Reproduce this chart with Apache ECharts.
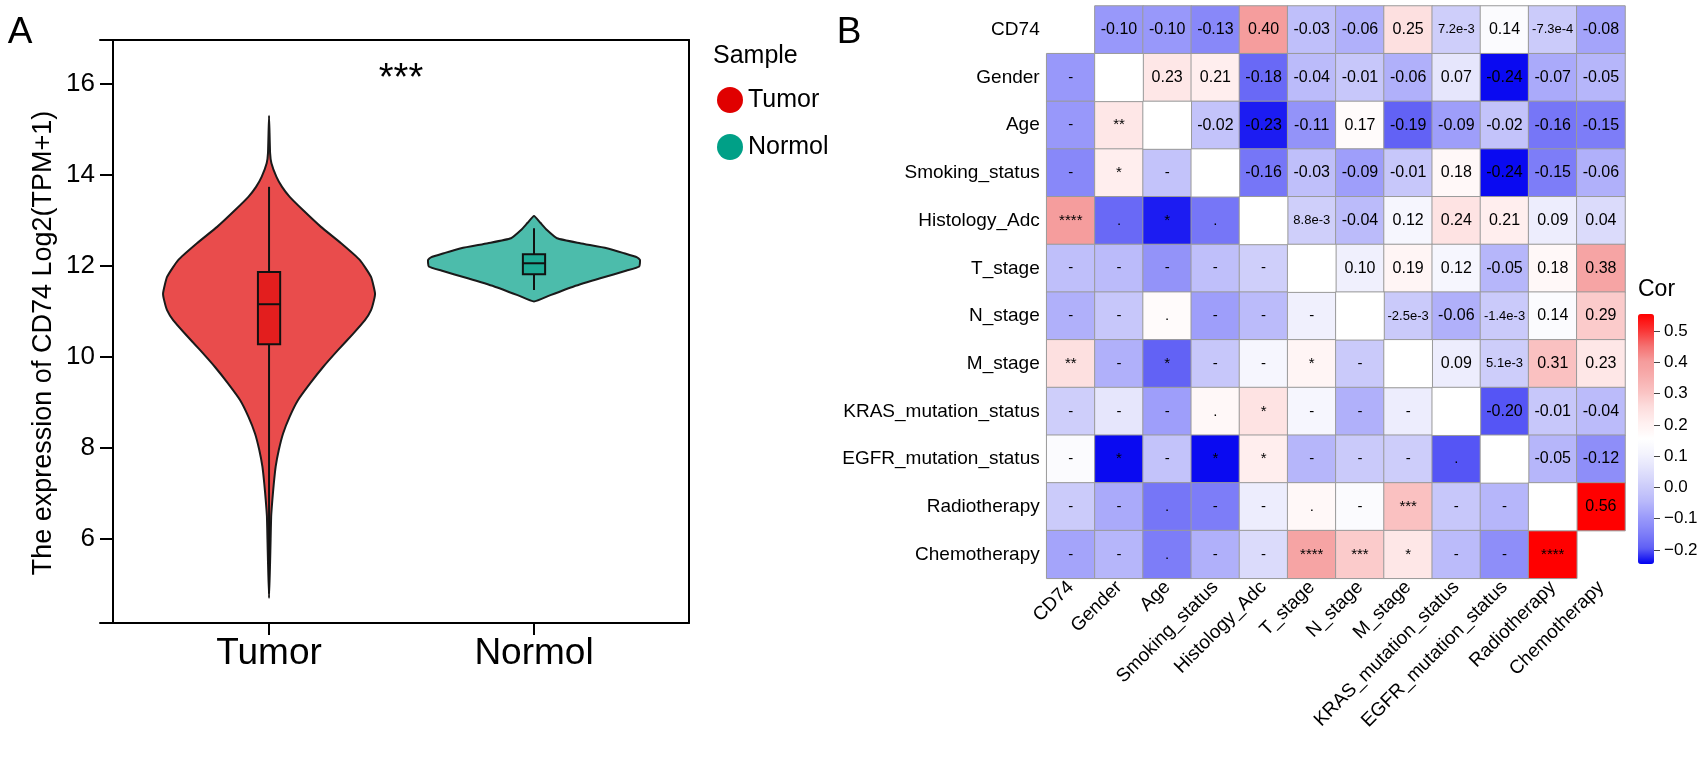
<!DOCTYPE html>
<html><head><meta charset="utf-8">
<script src="https://cdn.jsdelivr.net/npm/echarts@6/dist/echarts.min.js"></script>
<style>html,body{margin:0;padding:0;background:#fff}#c{width:1705px;height:763px}</style>
</head><body><div id="c"></div>
<script>
// ---------- Panel A data ----------
const groups = ['Tumor', 'Normol'];
const groupPos = [1, 2];
const groupColors = ['#E00000', '#00A087'];
const violinFill = ['rgba(224,0,0,0.7)', 'rgba(0,160,135,0.7)'];
const boxFill = ['rgba(224,0,0,0.6)', 'rgba(0,160,135,0.6)'];
// violin outline: [value, half-width in category units]
const tumorProfile = [[4.70,0],[5.50,0.004],[6.00,0.006],[6.50,0.008],[6.86,0.0125],[7.22,0.018],[7.59,0.025],[7.96,0.037],[8.32,0.053],[8.69,0.078],[9.05,0.109],[9.42,0.155],[9.78,0.204],[10.15,0.260],[10.51,0.317],[10.81,0.362],[11.03,0.385],[11.25,0.396],[11.40,0.400],[11.76,0.385],[12.13,0.343],[12.50,0.272],[12.86,0.196],[13.23,0.128],[13.52,0.078],[13.74,0.049],[13.96,0.028],[14.26,0.009],[14.48,0.004],[15.30,0]];
const normolProfile = [[11.22,0],[11.36,0.062],[11.55,0.15],[11.73,0.25],[11.90,0.35],[11.99,0.397],[12.13,0.40],[12.19,0.389],[12.28,0.34],[12.39,0.275],[12.50,0.174],[12.61,0.087],[12.79,0.049],[12.95,0.024],[13.10,0]];
// box stats: [lower whisker, Q1, median, Q3, upper whisker]
const tumorBox = [4.8, 10.28, 11.16, 11.87, 13.74];
const normolBox = [11.47, 11.82, 12.06, 12.26, 12.83];
const yTicks = [6, 8, 10, 12, 14, 16];
const signifText = '***';
const yTitle = 'The expression of CD74 Log2(TPM+1)';

// ---------- Panel B data ----------
const variables = ['CD74','Gender','Age','Smoking_status','Histology_Adc','T_stage','N_stage','M_stage','KRAS_mutation_status','EGFR_mutation_status','Radiotherapy','Chemotherapy'];
// upper triangle correlations, row i, columns i+1..end
const corrUpper = [
  [-0.10,-0.10,-0.13,0.40,-0.03,-0.06,0.25,0.0072,0.14,-0.00073,-0.08],
  [0.23,0.21,-0.18,-0.04,-0.01,-0.06,0.07,-0.24,-0.07,-0.05],
  [-0.02,-0.23,-0.11,0.17,-0.19,-0.09,-0.02,-0.16,-0.15],
  [-0.16,-0.03,-0.09,-0.01,0.18,-0.24,-0.15,-0.06],
  [0.0088,-0.04,0.12,0.24,0.21,0.09,0.04],
  [0.10,0.19,0.12,-0.05,0.18,0.38],
  [-0.0025,-0.06,-0.0014,0.14,0.29],
  [0.09,0.0051,0.31,0.23],
  [-0.20,-0.01,-0.04],
  [-0.05,-0.12],
  [0.56],
  []
];
// lower triangle significance marks, row i, columns 0..i-1
const sigLower = [
  [],
  ['-'],
  ['-','**'],
  ['-','*','-'],
  ['****','.','*','.'],
  ['-','-','-','-','-'],
  ['-','-','.','-','-','-'],
  ['**','-','*','-','-','*','-'],
  ['-','-','-','.','*','-','-','-'],
  ['-','*','-','*','*','-','-','-','.'],
  ['-','-','.','-','-','.','-','***','-','-'],
  ['-','-','.','-','-','****','***','*','-','-','****']
];
const corTicks = [-0.2,-0.1,0.0,0.1,0.2,0.3,0.4,0.5];
const corMin = -0.245, corMax = 0.555;
const corColors = ['#0000F0','#5F5FF5','#8080F8','#9B9BFA','#B9B9FA','#CDCDFA','#E1E1FC','#F2F2FD','#FFFFFF','#FFF0F0','#FDDEDE','#FAC3C3','#F7ADAD','#F59B9B','#F56E6E','#FA3232','#FF0000'];

// ---------- build ----------
const FONT = 'Liberation Sans, Arial, sans-serif';
const profiles = [tumorProfile, normolProfile];
const n = variables.length;
function corrAt(i, j) { return i < j ? corrUpper[i][j - i - 1] : corrUpper[j][i - j - 1]; }
function fmt(v) { return Math.abs(v) < 0.01 ? v.toExponential(1) : v.toFixed(2); }
const heatData = [];
for (let i = 0; i < n; i++) {
  for (let j = 0; j < n; j++) {
    if (i === j) continue;
    const v = corrAt(i, j);
    let text, fs;
    if (i < j) { text = fmt(v); fs = Math.abs(v) < 0.01 ? 13 : 16; }
    else { text = sigLower[i][j]; fs = 15; }
    heatData.push({ value: [j, i, v], label: { formatter: text, fontSize: fs } });
  }
}
const diagData = [];
for (let i = 1; i < n - 1; i++) diagData.push([i, i, 0]);

function violinSeries(k) {
  return {
    type: 'custom', name: groups[k], xAxisIndex: 0, yAxisIndex: 0,
    itemStyle: { color: groupColors[k] },
    data: [[groupPos[k]]],
    renderItem: function (params, api) {
      const pos = api.value(0);
      const prof = profiles[k];
      const pts = [];
      for (let p = 0; p < prof.length; p++) pts.push(api.coord([pos - prof[p][1], prof[p][0]]));
      for (let p = prof.length - 2; p > 0; p--) pts.push(api.coord([pos + prof[p][1], prof[p][0]]));
      return { type: 'polygon', shape: { points: pts, smooth: 0.15 },
        style: { fill: violinFill[k], stroke: '#1a1a1a', lineWidth: 2 } };
    }
  };
}
const boxSeries = {
  type: 'custom', name: 'box', xAxisIndex: 0, yAxisIndex: 0,
  data: [[groupPos[0]].concat(tumorBox), [groupPos[1]].concat(normolBox)],
  renderItem: function (params, api) {
    const pos = api.value(0), hw = 0.042;
    const lo = api.value(1), q1 = api.value(2), med = api.value(3), q3 = api.value(4), hi = api.value(5);
    const pLo = api.coord([pos, lo]), pQ1 = api.coord([pos, q1]), pQ3 = api.coord([pos, q3]), pHi = api.coord([pos, hi]);
    const tl = api.coord([pos - hw, q3]), br = api.coord([pos + hw, q1]);
    const ml = api.coord([pos - hw, med]), mr = api.coord([pos + hw, med]);
    const st = { stroke: '#111', lineWidth: 2 };
    return { type: 'group', children: [
      { type: 'line', shape: { x1: pLo[0], y1: pLo[1], x2: pQ1[0], y2: pQ1[1] }, style: st },
      { type: 'line', shape: { x1: pQ3[0], y1: pQ3[1], x2: pHi[0], y2: pHi[1] }, style: st },
      { type: 'rect', shape: { x: tl[0], y: tl[1], width: br[0] - tl[0], height: br[1] - tl[1] },
        style: { fill: boxFill[params.dataIndex], stroke: '#111', lineWidth: 2 } },
      { type: 'line', shape: { x1: ml[0], y1: ml[1], x2: mr[0], y2: mr[1] }, style: st }
    ] };
  }
};

const chart = echarts.init(document.getElementById('c'));
const axisBlack = { lineStyle: { color: '#000', width: 2 } };
chart.setOption({
  animation: false,
  textStyle: { fontFamily: FONT },
  graphic: [
    { type: 'text', x: 20, y: 33, style: { text: 'A', font: '37px ' + FONT, fill: '#000', textAlign: 'center', textVerticalAlign: 'middle' } },
    { type: 'text', x: 849, y: 33, style: { text: 'B', font: '37px ' + FONT, fill: '#000', textAlign: 'center', textVerticalAlign: 'middle' } },
    { type: 'text', x: 401, y: 80, style: { text: signifText, font: '38px ' + FONT, fill: '#000', textAlign: 'center', textVerticalAlign: 'middle' } },
    { type: 'text', x: 44, y: 343, rotation: Math.PI / 2, style: { text: yTitle, font: '27px ' + FONT, fill: '#000', textAlign: 'center', textVerticalAlign: 'middle' } },
    { type: 'text', x: 713, y: 56, style: { text: 'Sample', font: '25px ' + FONT, fill: '#000', textAlign: 'left', textVerticalAlign: 'middle' } },
    { type: 'text', x: 1638, y: 290, style: { text: 'Cor', font: '23px ' + FONT, fill: '#000', textAlign: 'left', textVerticalAlign: 'middle' } }
  ],
  legend: {
    data: groups, orient: 'vertical', left: 712, top: 82, icon: 'circle',
    itemWidth: 26, itemHeight: 26, itemGap: 21, selectedMode: false,
    textStyle: { fontSize: 25, color: '#000', fontFamily: FONT }
  },
  grid: [
    { left: 100, top: 40, width: 589, height: 583 },
    { left: 1046.7, top: 6, width: 578.3, height: 572.3 },
    { left: 1653, top: 314, width: 1, height: 250 }
  ],
  xAxis: [
    { type: 'value', gridIndex: 0, min: 0.362, max: 2.585, axisLine: axisBlack,
      axisTick: { customValues: groupPos, length: 12, lineStyle: { color: '#000', width: 2 } },
      axisLabel: { customValues: groupPos, formatter: function (v) { return groups[groupPos.indexOf(v)] || ''; },
        fontSize: 37, color: '#000', margin: 12 },
      splitLine: { show: false } },
    { type: 'value', gridIndex: 0, position: 'top', min: 0.362, max: 2.585, axisLine: axisBlack,
      axisTick: { show: false }, axisLabel: { show: false }, splitLine: { show: false } },
    { type: 'category', gridIndex: 1, data: variables, position: 'bottom',
      axisLine: { show: false }, axisTick: { show: false },
      axisLabel: { rotate: 45, interval: 0, fontSize: 19, color: '#000', margin: 6 } },
    { type: 'value', gridIndex: 2, show: false }
  ],
  yAxis: [
    { type: 'value', gridIndex: 0, min: 4.154, max: 16.967, offset: -13, axisLine: axisBlack,
      axisTick: { customValues: yTicks, length: 13, lineStyle: { color: '#000', width: 2 } },
      axisLabel: { customValues: yTicks, fontSize: 26, color: '#000', margin: 18 },
      splitLine: { show: false } },
    { type: 'value', gridIndex: 0, position: 'right', min: 4.154, max: 16.967, axisLine: axisBlack,
      axisTick: { show: false }, axisLabel: { show: false }, splitLine: { show: false } },
    { type: 'category', gridIndex: 1, data: variables, inverse: true,
      axisLine: { show: false }, axisTick: { show: false },
      axisLabel: { fontSize: 19, color: '#000', margin: 7 } },
    { type: 'value', gridIndex: 2, position: 'right', min: corMin, max: corMax,
      axisLine: { show: false }, splitLine: { show: false },
      axisTick: { customValues: corTicks, length: 7, lineStyle: { color: '#444', width: 1 } },
      axisLabel: { customValues: corTicks, fontSize: 17, color: '#000', margin: 10,
        formatter: function (v) { return (v < 0 ? '\u2212' : '') + Math.abs(v).toFixed(1); } } }
  ],
  visualMap: {
    type: 'continuous', seriesIndex: 3, min: corMin, max: corMax, calculable: false,
    left: 1638, top: 314, itemWidth: 16, itemHeight: 250, padding: 0, hoverLink: false,
    inRange: { color: corColors }, text: null, showLabel: false
  },
  series: [
    violinSeries(0), violinSeries(1), boxSeries,
    { type: 'heatmap', xAxisIndex: 2, yAxisIndex: 2, data: heatData,
      itemStyle: { borderColor: '#9a9a9a', borderWidth: 1 },
      label: { show: true, color: '#000', fontFamily: FONT },
      emphasis: { disabled: true } },
    { type: 'heatmap', xAxisIndex: 2, yAxisIndex: 2, data: diagData,
      itemStyle: { color: '#ffffff', borderColor: '#9a9a9a', borderWidth: 1 },
      label: { show: false }, emphasis: { disabled: true } }
  ]
});
</script></body></html>
